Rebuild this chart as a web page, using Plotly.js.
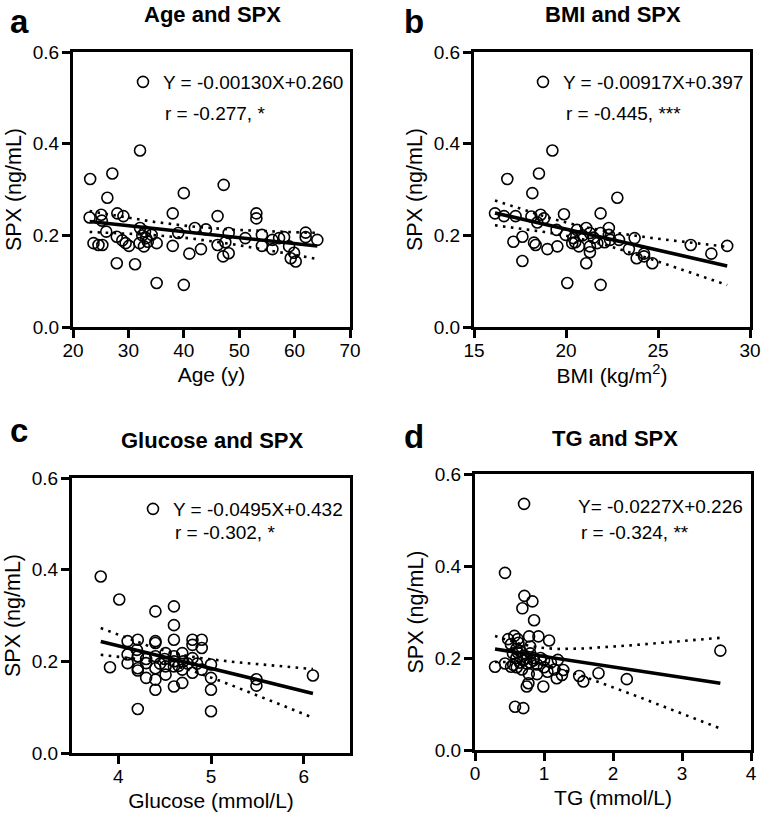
<!DOCTYPE html>
<html>
<head>
<meta charset="utf-8">
<script src="https://cdn.plot.ly/plotly-3.0.1.min.js"></script>
<style>html,body{margin:0;padding:0;background:#fff;}#chart{width:762px;height:818px;}</style>
</head>
<body>
<div id="chart"></div>
<script>
// ---- Data ----
const ageX = [23.1,27.1,32.1,26.2,23.0,25.1,28.0,29.1,25.2,26.0,23.7,24.6,25.3,27.9,28.9,29.5,30.1,27.9,31.2,32.0,32.1,33.0,33.2,32.8,32.5,33.5,34.2,35.1,35.1,38.0,38.0,39.0,40.0,40.0,41.0,42.0,43.1,44.0,46.1,46.1,47.2,47.1,48.1,48.1,51.1,53.1,53.1,54.1,54.1,56.0,56.0,57.2,58.1,59.0,59.3,60.2,59.9,62.0,62.0,64.1,47.5];
const ageY = [0.323,0.335,0.385,0.282,0.239,0.245,0.248,0.242,0.232,0.208,0.183,0.179,0.179,0.197,0.189,0.183,0.177,0.139,0.137,0.183,0.216,0.208,0.194,0.176,0.200,0.186,0.201,0.183,0.096,0.248,0.177,0.205,0.292,0.092,0.160,0.216,0.170,0.213,0.242,0.179,0.310,0.154,0.161,0.205,0.194,0.248,0.237,0.201,0.177,0.190,0.170,0.194,0.196,0.176,0.150,0.143,0.162,0.206,0.196,0.190,0.185];

const bmiX = [16.14,16.63,16.81,17.26,17.14,17.63,17.63,18.17,18.53,19.26,18.12,18.62,18.8,18.44,18.26,18.35,18.99,19.49,19.53,19.89,19.98,20.07,20.34,20.4,20.7,20.6,21.1,21.1,21.3,21.3,21.3,21.88,21.88,21.88,21.7,22.33,22.33,22.4,22.79,22.88,23.42,23.73,23.84,24.24,24.24,24.69,26.78,27.9,28.76,21.5,20.9,22.1,20.5];
const bmiY = [0.248,0.242,0.323,0.242,0.186,0.197,0.144,0.292,0.335,0.385,0.241,0.245,0.237,0.228,0.184,0.179,0.170,0.212,0.176,0.246,0.201,0.096,0.183,0.194,0.176,0.212,0.216,0.139,0.205,0.176,0.163,0.248,0.205,0.092,0.183,0.216,0.201,0.190,0.282,0.190,0.170,0.194,0.150,0.160,0.154,0.139,0.179,0.160,0.177,0.195,0.200,0.185,0.185];

const gluX = [3.81,4.01,3.91,4.21,4.40,4.60,4.60,4.60,4.10,4.10,4.10,4.21,4.21,4.21,4.21,4.30,4.30,4.40,4.40,4.40,4.40,4.40,4.40,4.51,4.51,4.51,4.60,4.60,4.60,4.69,4.69,4.69,4.80,4.80,4.80,4.80,4.90,4.90,4.90,5.00,5.00,5.00,5.00,5.49,5.49,6.10,4.60,4.70,4.50,4.30,4.20,4.45,4.65,4.75,4.85];
const gluY = [0.385,0.335,0.187,0.096,0.309,0.320,0.279,0.247,0.244,0.215,0.196,0.247,0.211,0.185,0.180,0.196,0.164,0.244,0.240,0.211,0.185,0.160,0.138,0.218,0.189,0.171,0.211,0.189,0.145,0.218,0.182,0.153,0.247,0.236,0.207,0.175,0.247,0.229,0.182,0.193,0.164,0.138,0.091,0.161,0.147,0.169,0.200,0.200,0.205,0.205,0.225,0.195,0.190,0.195,0.195];

const tgX = [0.711,0.435,0.716,0.832,0.687,0.856,0.784,0.919,1.074,0.48,0.571,0.619,0.63,0.29,0.435,0.522,0.555,0.605,0.65,0.70,0.75,0.80,0.85,0.90,0.95,1.00,1.05,1.10,1.15,1.20,1.185,1.26,1.28,0.58,0.70,0.774,0.75,0.99,1.51,1.57,1.79,2.20,3.556,0.55,0.60,0.65,0.70,0.75,0.80,0.85,0.60,0.68,0.78,0.90,1.00,0.52,0.62,0.80];
const tgY = [0.535,0.385,0.335,0.323,0.308,0.282,0.247,0.247,0.238,0.241,0.248,0.241,0.233,0.181,0.188,0.181,0.185,0.180,0.190,0.195,0.188,0.190,0.195,0.186,0.200,0.180,0.170,0.190,0.175,0.196,0.156,0.163,0.174,0.094,0.091,0.145,0.138,0.138,0.161,0.149,0.167,0.154,0.216,0.210,0.220,0.215,0.205,0.200,0.210,0.200,0.200,0.175,0.165,0.165,0.195,0.230,0.212,0.225];

// Regression results printed in the reference
const slopes = [-0.00130, -0.00917, -0.0495, -0.0227];
const intercepts = [0.260, 0.397, 0.432, 0.226];
const eqTexts = ['Y = -0.00130X+0.260', 'Y = -0.00917X+0.397', 'Y = -0.0495X+0.432', 'Y= -0.0227X+0.226'];
const rTexts = ['r = -0.277, *', 'r = -0.445, ***', 'r = -0.302, *', 'r = -0.324, **'];
const panelTitles = ['Age and SPX', 'BMI and SPX', 'Glucose and SPX', 'TG and SPX'];
const panelLetters = ['a', 'b', 'c', 'd'];
const xTitles = ['Age (y)', 'BMI (kg/m<sup>2</sup>)', 'Glucose (mmol/L)', 'TG (mmol/L)'];
const yTitle = 'SPX (ng/mL)';

const FONT = 'Arial, "Liberation Sans", Helvetica, sans-serif';

// fit line and 95% CI of the regression line, computed from data
function fitTraces(xs, ys, m, b, xa, ya) {
  const n = xs.length;
  const xmin = Math.min(...xs), xmax = Math.max(...xs);
  const xbar = xs.reduce((s, v) => s + v, 0) / n;
  let sxx = 0, sse = 0;
  for (let i = 0; i < n; i++) {
    sxx += (xs[i] - xbar) ** 2;
    const r = ys[i] - (m * xs[i] + b);
    sse += r * r;
  }
  const s = Math.sqrt(sse / (n - 2));
  const t = 2.0;
  const gx = [], gy = [], up = [], lo = [];
  const N = 60;
  for (let k = 0; k <= N; k++) {
    const x = xmin + (xmax - xmin) * k / N;
    const yhat = m * x + b;
    const se = s * Math.sqrt(1 / n + (x - xbar) ** 2 / sxx);
    gx.push(x); gy.push(yhat); up.push(yhat + t * se); lo.push(yhat - t * se);
  }
  const dot = {color: '#000', width: 2.6, dash: '2.6px,5.4px'};
  return [
    {x: gx, y: up, xaxis: xa, yaxis: ya, mode: 'lines', line: dot, showlegend: false, hoverinfo: 'skip'},
    {x: gx, y: lo, xaxis: xa, yaxis: ya, mode: 'lines', line: dot, showlegend: false, hoverinfo: 'skip'},
    {x: gx, y: gy, xaxis: xa, yaxis: ya, mode: 'lines', line: {color: '#000', width: 3.6}, showlegend: false, hoverinfo: 'skip'}
  ];
}

const datasets = [[ageX, ageY], [bmiX, bmiY], [gluX, gluY], [tgX, tgY]];
const axNames = [['x', 'y'], ['x2', 'y2'], ['x3', 'y3'], ['x4', 'y4']];
const legendIds = ['legend', 'legend2', 'legend3', null];

let traces = [];
datasets.forEach((d, i) => {
  const [xa, ya] = axNames[i];
  traces.push({
    x: d[0], y: d[1], xaxis: xa, yaxis: ya, type: 'scatter', mode: 'markers',
    name: eqTexts[i],
    marker: {symbol: 'circle-open', size: 11, color: '#000', line: {width: 1.6, color: '#000'}},
    showlegend: legendIds[i] !== null,
    legend: legendIds[i] || 'legend'
  });
  traces = traces.concat(fitTraces(d[0], d[1], slopes[i], intercepts[i], xa, ya));
});

const W = 762, H = 818;
function dx(l, r) { return [l / W, r / W]; }
function dy(t, b) { return [1 - b / H, 1 - t / H]; }

function xax(domain, range, tickvals, title, anchor) {
  return {
    domain: domain, range: range, tickvals: tickvals, anchor: anchor,
    showline: true, mirror: true, linewidth: 3, linecolor: '#000',
    ticks: 'outside', ticklen: 8, tickwidth: 3, tickcolor: '#000',
    showgrid: false, zeroline: false, ticklabelstandoff: -4,
    tickfont: {family: FONT, size: 19, color: '#000'},
    title: {text: title, font: {family: FONT, size: 21, color: '#000'}, standoff: 8}
  };
}
function yax(domain, anchor) {
  return {
    domain: domain, range: [0, 0.6], tickvals: [0, 0.2, 0.4, 0.6], tickformat: '.1f', anchor: anchor,
    showline: true, mirror: true, linewidth: 3, linecolor: '#000',
    ticks: 'outside', ticklen: 8, tickwidth: 3, tickcolor: '#000',
    showgrid: false, zeroline: false, ticklabelstandoff: -1,
    tickfont: {family: FONT, size: 19, color: '#000'},
    title: {text: yTitle, font: {family: FONT, size: 21.5, color: '#000'}, standoff: 6}
  };
}

const legBase = {bgcolor: 'rgba(0,0,0,0)', borderwidth: 0, itemwidth: 30,
  font: {family: FONT, size: 19, color: '#000'}, xanchor: 'left', yanchor: 'middle', itemclick: false};

const annotations = [];
const titlePos = [[212, 15], [613, 15], [212, 440], [615, 438]];
const letterPos = [[19, 21], [414, 21], [19, 431], [414, 436]];
const rPos = [[163, 113], [564, 113], [173, 532], [579, 532]];
titlePos.forEach((p, i) => {
  annotations.push({xref: 'paper', yref: 'paper', x: p[0] / W, y: 1 - p[1] / H, text: '<b>' + panelTitles[i] + '</b>',
    showarrow: false, xanchor: 'center', yanchor: 'middle', font: {family: FONT, size: 22, color: '#000'}});
  annotations.push({xref: 'paper', yref: 'paper', x: letterPos[i][0] / W, y: 1 - letterPos[i][1] / H, text: '<b>' + panelLetters[i] + '</b>',
    showarrow: false, xanchor: 'center', yanchor: 'middle', font: {family: FONT, size: 33, color: '#000'}});
  annotations.push({xref: 'paper', yref: 'paper', x: rPos[i][0] / W, y: 1 - rPos[i][1] / H, text: rTexts[i],
    showarrow: false, xanchor: 'left', yanchor: 'middle', font: {family: FONT, size: 19, color: '#000'}});
});
// panel d equation has no symbol
annotations.push({xref: 'paper', yref: 'paper', x: 576 / W, y: 1 - 506 / H, text: eqTexts[3],
  showarrow: false, xanchor: 'left', yanchor: 'middle', font: {family: FONT, size: 19, color: '#000'}});

const layout = {
  width: W, height: H,
  margin: {l: 0, r: 0, t: 0, b: 0, pad: 0},
  paper_bgcolor: '#fff', plot_bgcolor: '#fff',
  font: {family: FONT, color: '#000'},
  xaxis: xax(dx(73, 350), [20, 70], [20, 30, 40, 50, 60, 70], xTitles[0], 'y'),
  yaxis: yax(dy(52, 327), 'x'),
  xaxis2: xax(dx(474, 750), [15, 30], [15, 20, 25, 30], xTitles[1], 'y2'),
  yaxis2: yax(dy(52, 327), 'x2'),
  xaxis3: xax(dx(72, 350), [3.5, 6.5], [4, 5, 6], xTitles[2], 'y3'),
  yaxis3: yax(dy(478, 753), 'x3'),
  xaxis4: xax(dx(475, 751), [0, 4], [0, 1, 2, 3, 4], xTitles[3], 'y4'),
  yaxis4: yax(dy(474, 750), 'x4'),
  legend: Object.assign({}, legBase, {x: 123 / W, y: 1 - 82 / H}),
  legend2: Object.assign({}, legBase, {x: 523 / W, y: 1 - 82 / H}),
  legend3: Object.assign({}, legBase, {x: 133 / W, y: 1 - 509 / H}),
  annotations: annotations,
  showlegend: true
};

Plotly.newPlot('chart', traces, layout, {staticPlot: true, displayModeBar: false});
</script>
</body>
</html>
